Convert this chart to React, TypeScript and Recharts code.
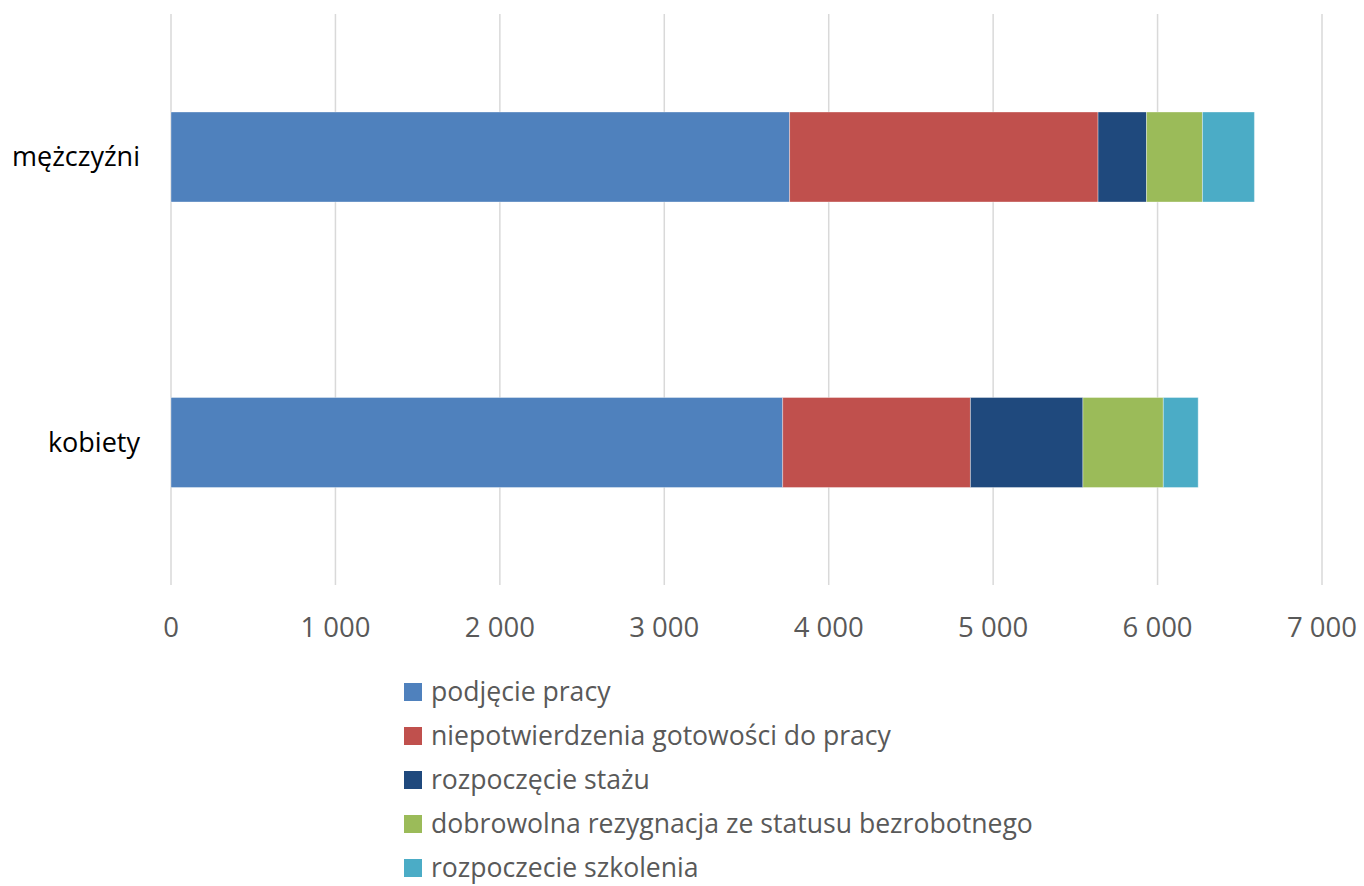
import { BarChart, Bar, XAxis, YAxis, CartesianGrid, Legend } from 'recharts';

const categories = ['mężczyźni', 'kobiety'];
const seriesNames = [
  'podjęcie pracy',
  'niepotwierdzenia gotowości do pracy',
  'rozpoczęcie stażu',
  'dobrowolna rezygnacja ze statusu bezrobotnego',
  'rozpoczecie szkolenia',
];
const seriesColors = ['#4F81BD', '#C0504D', '#1F497D', '#9BBB59', '#4BACC6'];

// values per series, in category order (mężczyźni, kobiety)
const podjeciePracy = [3762, 3720];
const niepotwierdzenia = [1876, 1142];
const rozpoczecieStazu = [295, 684];
const dobrowolnaRezygnacja = [340, 489];
const rozpoczecieSzkolenia = [316, 212];

const xTicks = [0, 1000, 2000, 3000, 4000, 5000, 6000, 7000];

const seriesValues = [podjeciePracy, niepotwierdzenia, rozpoczecieStazu, dobrowolnaRezygnacja, rozpoczecieSzkolenia];
const keys = ['s0', 's1', 's2', 's3', 's4'];

const data = categories.map((name, i) => {
  const row: Record<string, string | number> = { name };
  seriesValues.forEach((vals, s) => {
    row[keys[s]] = vals[i];
  });
  return row;
});

const FONT = '"Open Sans", sans-serif';

const formatThousands = (v: number) => String(v).replace(/\B(?=(\d{3})+(?!\d))/g, ' ');

function LegendList() {
  return (
    <div style={{ fontFamily: FONT, fontSize: 26.6, color: '#595959', lineHeight: 1.2 }}>
      {seriesNames.map((name, i) => (
        <div key={name} style={{ display: 'flex', alignItems: 'center', height: 44 }}>
          <span
            style={{
              display: 'inline-block',
              width: 18,
              height: 18,
              background: seriesColors[i],
              marginRight: 9,
            }}
          />
          <span>{name}</span>
        </div>
      ))}
    </div>
  );
}

export default function App() {
  return (
    <div style={{ position: 'absolute', left: 0, top: 0, background: '#fff' }}>
      <BarChart
        width={1364}
        height={886}
        data={data}
        layout="vertical"
        margin={{ top: 14, right: 42, bottom: 241, left: 0 }}
      >
        <CartesianGrid horizontal={false} stroke="#d9d9d9" strokeWidth={1.5} />
        <XAxis
          type="number"
          domain={[0, 7000]}
          ticks={xTicks}
          tickFormatter={formatThousands}
          axisLine={false}
          tickLine={false}
          tickSize={0}
          tickMargin={32}
          height={60}
          interval={0}
          tick={{ fill: '#595959', fontSize: 27.5, fontFamily: FONT }}
        />
        <YAxis
          type="category"
          dataKey="name"
          width={171}
          axisLine={false}
          tickLine={false}
          tickSize={0}
          tickMargin={31}
          tick={{ fill: '#000000', fontSize: 27, fontFamily: FONT }}
        />
        {keys.map((k, i) => (
          <Bar
            key={k}
            dataKey={k}
            name={seriesNames[i]}
            stackId="a"
            fill={seriesColors[i]}
            barSize={90}
            stroke="#ffffff"
            strokeOpacity={0.35}
            strokeWidth={1}
            isAnimationActive={false}
          />
        ))}
        <Legend
          layout="vertical"
          align="center"
          verticalAlign="middle"
          content={<LegendList />}
          wrapperStyle={{ left: 404, top: 670, width: 'auto', height: 'auto' }}
        />
      </BarChart>
    </div>
  );
}
